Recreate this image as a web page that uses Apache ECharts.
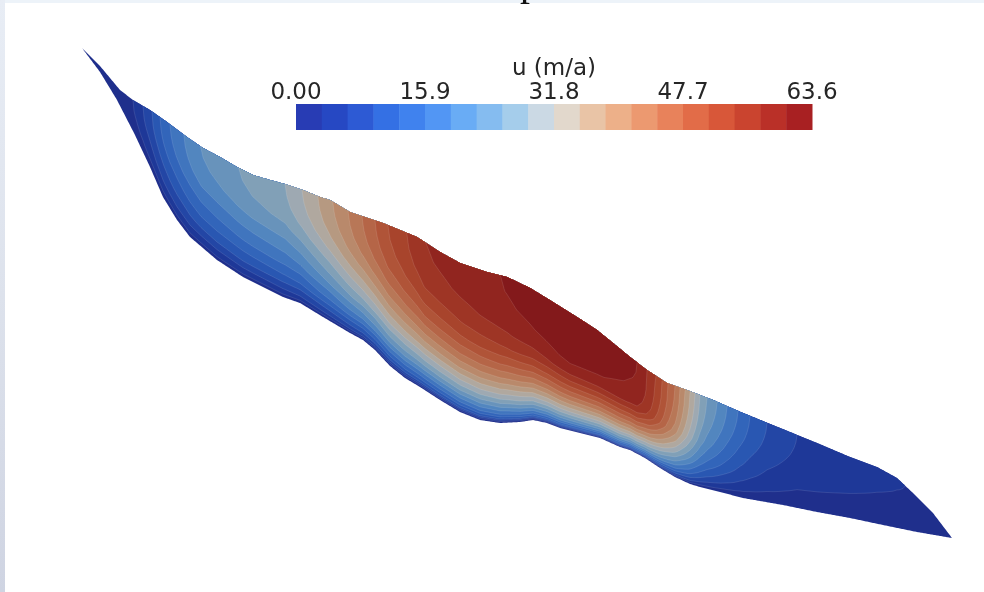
<!DOCTYPE html>
<html><head><meta charset="utf-8">
<script src="https://cdn.jsdelivr.net/npm/echarts@6/dist/echarts.min.js"></script>
<style>html,body{margin:0;padding:0;background:#fff}#c{width:984px;height:592px}</style>
</head><body><div id="c"></div>
<script>
// ---------- data ----------
// glacier surface profile (distance along flowline, elevation)
const surfaceX    = [82,100,120,133,150,167,187,203,220,237,253,270,285,303,320,330,350,383,417,440,460,487,507,530,553,577,597,613,630,647,667,687,713,743,780,817,850,877,897,913,933,952];
const surfaceElev = [544,526,502,492,482,470,455,444,435,425,417,412,408,402,395,392,380,369,355,340,329,320,315,304,290,275,262,249,235,222,209,202,192,179,164,149,135,125,114,99,79,54];
// glacier bed profile
const bedX    = [82,100,117,135,150,163,177,190,217,243,263,283,300,323,350,363,375,390,405,420,440,460,480,500,520,533,547,560,580,600,620,630,645,660,675,690,700,720,743,783,817,850,883,917,952];
const bedElev = [544,520,492,457,425,395,372,355,332,315,305,295,289,275,259,252,242,226,214,205,192,180,172,169,170,172,169,164,159,154,145,142,134,124,115,108,105,100,94,87,80,74,67,60,54];
// surface velocity u (m/a) along the flowline
const velX       = [82,133,143,152,160,170,184,201,238,285,302,318,333,348,362,375,388,407,425,500,570,637,647,655,662,668,675,680,685,690,695,700,707,717,727,738,750,767,797,905,952];
const surfaceVel = [1.0,3.18,6.36,9.54,12.7,15.9,19.1,22.3,25.4,28.6,31.8,35.0,38.2,41.3,44.5,47.7,50.9,54.1,57.2,60.4,63.6,60.4,57.2,54.1,50.9,47.7,44.5,41.3,38.2,35.0,31.8,28.6,25.4,22.3,19.1,15.9,12.7,9.54,6.36,3.18,2.0];
// vertical velocity profiles: fraction of surface velocity vs. relative height above bed
const profileZeta   = [0,0.03,0.06,0.1,0.15,0.2,0.25,0.3,0.4,0.5,0.6,0.7,0.8,0.9,1.0];
const profileLeft   = [0,0.13,0.20,0.27,0.37,0.445,0.50,0.57,0.67,0.76,0.85,0.92,0.965,0.99,1.0];
const profileMiddle = [0,0.20,0.30,0.40,0.50,0.58,0.66,0.73,0.85,0.94,0.975,0.99,0.997,1.0,1.0];
const profileRight  = [0,0.10,0.18,0.27,0.36,0.43,0.50,0.56,0.66,0.75,0.83,0.90,0.95,0.985,1.0];
const profileStationX = [300, 600, 650, 740];
const profileStations = [profileLeft, profileMiddle, profileMiddle, profileRight];
// colour bar
const colorbarMin = 0, colorbarMax = 63.6, colorbarBands = 20;
const colorbarTicks  = [0, 15.9, 31.8, 47.7, 63.6];
const colorbarLabels = ['0.00','15.9','31.8','47.7','63.6'];
const colorbarTitle  = 'u (m/a)';

// ---------- styles ----------
const palette = ['#283cb4','#2648c3','#2d5ad4','#3470e4','#4082ee','#5296f4','#69acf5','#85bcf0','#a5cdeb','#cbd9e4',
                 '#e2d8cc','#e9c4a6','#edb089','#ec9970','#e8825b','#e26c48','#d85739','#ca442f','#ba3028','#a82022'];
const SHADE = 0.78;
function shade(hex, f){
  const n = parseInt(hex.slice(1),16);
  const r = Math.round(((n>>16)&255)*f), g = Math.round(((n>>8)&255)*f), b = Math.round((n&255)*f);
  return 'rgb('+r+','+g+','+b+')';
}

// ---------- helpers ----------
function interp(xs, ys, x){
  if (x <= xs[0]) return ys[0];
  for (let i=1;i<xs.length;i++){
    if (x <= xs[i]){ const t=(x-xs[i-1])/(xs[i]-xs[i-1]); return ys[i-1]+t*(ys[i]-ys[i-1]); }
  }
  return ys[ys.length-1];
}
function profileAt(x){
  const xs = profileStationX, ps = profileStations;
  if (x <= xs[0]) return ps[0];
  if (x >= xs[xs.length-1]) return ps[ps.length-1];
  for (let i=1;i<xs.length;i++){
    if (x <= xs[i]){
      const t=(x-xs[i-1])/(xs[i]-xs[i-1]);
      return ps[i].map((v,j)=>ps[i-1][j]+t*(v-ps[i-1][j]));
    }
  }
}
function invProfile(frac, r){
  if (r <= 0) return 0;
  if (r >= 1) return 1;
  for (let i=1;i<frac.length;i++){
    if (r <= frac[i]){ const t=(r-frac[i-1])/(frac[i]-frac[i-1]); return profileZeta[i-1]+t*(profileZeta[i]-profileZeta[i-1]); }
  }
  return 1;
}
const xStart = surfaceX[0], xEnd = surfaceX[surfaceX.length-1];
const sx=[], ss=[], sb=[], su=[], sp=[];
for (let x=xStart; x<=xEnd+1e-9; x+=1){
  sx.push(x); ss.push(interp(surfaceX,surfaceElev,x)); sb.push(interp(bedX,bedElev,x));
  su.push(interp(velX,surfaceVel,x)); sp.push(profileAt(x));
}
const step = (colorbarMax-colorbarMin)/colorbarBands;
const bandIdx = []; for (let k=0;k<colorbarBands;k++) bandIdx.push(k);

function renderBand(params, api){
  const k = api.value(0);
  const L = colorbarMin + k*step;
  const n = sx.length;
  const zeta = new Array(n);
  let a=-1,b=-1;
  for (let i=0;i<n;i++){
    zeta[i] = (L<=0) ? 0 : (su[i] <= 0 ? 1 : invProfile(sp[i], L/su[i]));
    if (zeta[i] < 1){ if (a<0) a=i; b=i; }
  }
  if (a<0) return null;
  const ia = Math.max(0,a-1), ib = Math.min(n-1,b+1);
  const lower=[], upper=[];
  for (let i=ia;i<=ib;i++) lower.push(api.coord([sx[i], sb[i]+zeta[i]*(ss[i]-sb[i])]));
  for (let i=ib;i>=ia;i--) upper.push(api.coord([sx[i], ss[i]]));
  const children = [{type:'polygon', shape:{points: lower.concat(upper)}, style:{fill: shade(palette[k],SHADE), stroke:null}}];
  if (k>0) children.push({type:'polyline', shape:{points: lower}, style:{stroke:'rgba(255,255,255,0.14)', lineWidth:0.8, fill:null}});
  return {type:'group', children};
}
function renderColorbar(params, api){
  const k = api.value(0);
  const p0 = api.coord([colorbarMin+k*step, 1]);
  const p1 = api.coord([colorbarMin+(k+1)*step, 0]);
  return {type:'rect', shape:{x:p0[0], y:p0[1], width:p1[0]-p0[0]+0.5, height:p1[1]-p0[1]}, style:{fill: palette[k]}};
}

const chart = echarts.init(document.getElementById('c'));
chart.setOption({
  animation:false,
  backgroundColor:'#ffffff',
  graphic:[
    {type:'rect', silent:true, shape:{x:0,y:0,width:984,height:3}, style:{fill:'#edf3f9'}},
    {type:'rect', silent:true, shape:{x:0,y:0,width:5,height:592}, style:{fill:new echarts.graphic.LinearGradient(0,0,0,1,[{offset:0,color:'#e8edf5'},{offset:0.5,color:'#dde2ec'},{offset:1,color:'#cfd4e2'}])}},
    {type:'text', silent:true, x:520, y:4, style:{text:'p', font:'40px "Liberation Serif"', fill:'#111', verticalAlign:'bottom'}}
  ],
  grid:[{left:0,right:0,top:0,bottom:0},{left:296,width:516,top:104,height:26}],
  xAxis:[
    {type:'value', gridIndex:0, min:0, max:984, show:false},
    {type:'value', gridIndex:1, min:colorbarMin, max:colorbarMax, interval:15.9, position:'top',
     axisLine:{show:false}, axisTick:{show:false}, splitLine:{show:false},
     axisLabel:{margin:-1, fontSize:23, color:'#262626', fontFamily:'DejaVu Sans',
       formatter:function(v){ for (let i=0;i<colorbarTicks.length;i++) if (Math.abs(v-colorbarTicks[i])<1e-6) return colorbarLabels[i]; return ''; }},
     name:colorbarTitle, nameLocation:'middle', nameGap:23,
     nameTextStyle:{fontSize:23, color:'#262626', fontFamily:'DejaVu Sans'}}
  ],
  yAxis:[
    {type:'value', gridIndex:0, min:0, max:592, show:false},
    {type:'value', gridIndex:1, min:0, max:1, show:false}
  ],
  series:[
    {type:'custom', xAxisIndex:0, yAxisIndex:0, data:bandIdx.map(k=>[k]), renderItem:renderBand, silent:true},
    {type:'custom', xAxisIndex:1, yAxisIndex:1, data:bandIdx.map(k=>[k]), renderItem:renderColorbar, silent:true}
  ]
});
</script></body></html>
